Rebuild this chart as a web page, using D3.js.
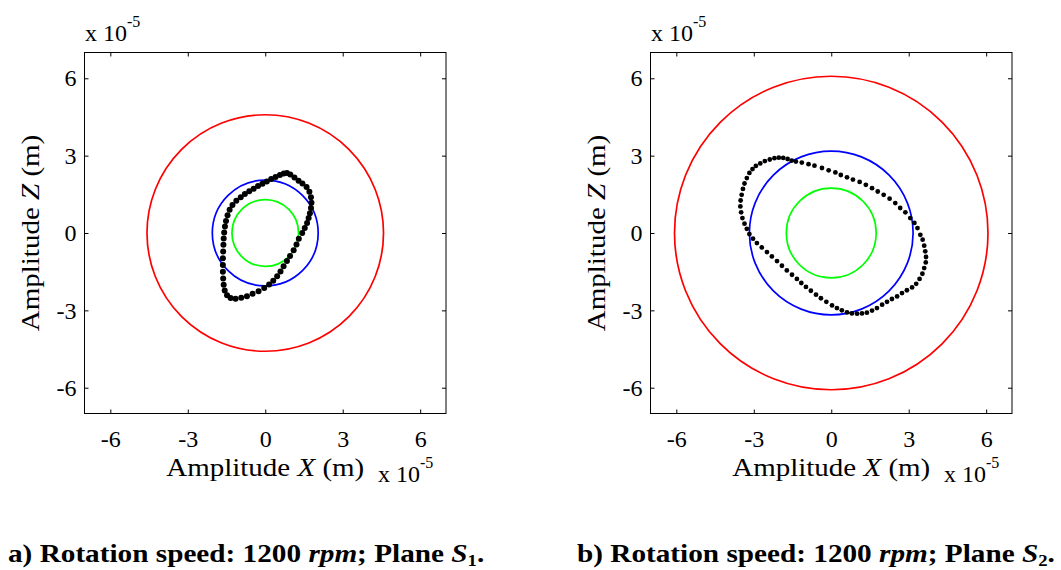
<!DOCTYPE html>
<html>
<head>
<meta charset="utf-8">
<script src="https://cdn.jsdelivr.net/npm/d3@7"></script>
<style>
  html, body { margin: 0; padding: 0; background: #ffffff; }
  svg { display: block; font-family: "Liberation Serif", "Times New Roman", serif; }
</style>
</head>
<body>
<svg id="fig" width="1061" height="570"></svg>
<script>
// ---- data (amplitudes in units of 1e-5 m) ----
const tickValues = [-6, -3, 0, 3, 6];
const axisDomain = [-7, 7];
const exponentBase = "x 10";
const exponentPower = "-5";
const axisWord = "Amplitude";
const axisUnit = "(m)";
const xSymbol = "X";
const ySymbol = "Z";

const captionLetters = ["a)", "b)"];
const rotationSpeed = 1200;
const speedUnit = "rpm";
const planeSymbol = "S";
const planeIndex = [1, 2];

// reference circles: outer (red), middle (blue), inner (green)
const radiiS1 = [4.58, 2.05, 1.29];
const radiiS2 = [6.07, 3.17, 1.74];

// measured orbit, plane S1: [X, Z]
const orbitS1 = [
  [0.84, 2.33], [0.97, 2.27], [1.13, 2.15], [1.29, 2.03], [1.44, 1.92], [1.60, 1.78],
  [1.71, 1.60], [1.77, 1.39], [1.79, 1.17], [1.77, 0.97], [1.73, 0.77], [1.68, 0.58],
  [1.62, 0.39], [1.53, 0.19], [1.43, 0.00], [1.30, -0.22], [1.21, -0.45], [1.10, -0.67],
  [0.96, -0.89], [0.84, -1.09], [0.71, -1.29], [0.59, -1.49], [0.46, -1.68], [0.31, -1.85],
  [0.15, -2.00], [-0.04, -2.13], [-0.26, -2.26], [-0.49, -2.36], [-0.71, -2.45], [-0.93, -2.51],
  [-1.15, -2.55], [-1.34, -2.52], [-1.48, -2.41], [-1.57, -2.23], [-1.61, -2.01], [-1.63, -1.76],
  [-1.64, -1.50], [-1.64, -1.24], [-1.64, -0.98], [-1.63, -0.72], [-1.62, -0.46], [-1.61, -0.21],
  [-1.59, 0.02], [-1.56, 0.25], [-1.52, 0.47], [-1.46, 0.69], [-1.38, 0.90], [-1.27, 1.09],
  [-1.12, 1.25], [-0.95, 1.39], [-0.79, 1.51], [-0.62, 1.62], [-0.45, 1.72], [-0.28, 1.82],
  [-0.11, 1.91], [0.06, 2.00], [0.23, 2.09], [0.40, 2.17], [0.57, 2.25], [0.72, 2.31]
];

// measured orbit, plane S2: [X, Z]
const orbitS2 = [
  [-3.27, 2.13], [-3.17, 2.33], [-3.05, 2.48], [-2.92, 2.60], [-2.75, 2.70], [-2.57, 2.79],
  [-2.38, 2.85], [-2.20, 2.90], [-2.03, 2.92], [-1.86, 2.91], [-1.69, 2.87], [-1.53, 2.81],
  [-1.37, 2.77], [-1.14, 2.73], [-0.88, 2.67], [-0.65, 2.61], [-0.36, 2.52], [-0.10, 2.43],
  [0.16, 2.35], [0.37, 2.25], [0.61, 2.16], [0.84, 2.07], [1.10, 1.98], [1.34, 1.87],
  [1.58, 1.74], [1.80, 1.61], [2.03, 1.48], [2.26, 1.33], [2.48, 1.16], [2.67, 0.97],
  [2.87, 0.80], [3.06, 0.58], [3.22, 0.39], [3.34, 0.19], [3.45, -0.07], [3.54, -0.26],
  [3.60, -0.49], [3.64, -0.71], [3.67, -0.93], [3.66, -1.14], [3.60, -1.36], [3.53, -1.58],
  [3.42, -1.78], [3.29, -1.97], [3.13, -2.11], [2.93, -2.22], [2.74, -2.33], [2.55, -2.46],
  [2.35, -2.56], [2.16, -2.67], [1.97, -2.78], [1.77, -2.91], [1.58, -3.01], [1.38, -3.09],
  [1.19, -3.12], [1.00, -3.13], [0.80, -3.12], [0.61, -3.08], [0.41, -3.00], [0.22, -2.91],
  [0.03, -2.81], [-0.19, -2.67], [-0.40, -2.53], [-0.59, -2.39], [-0.79, -2.24], [-0.98, -2.09],
  [-1.16, -1.94], [-1.33, -1.78], [-1.52, -1.62], [-1.72, -1.45], [-1.91, -1.27], [-2.10, -1.09],
  [-2.30, -0.91], [-2.49, -0.74], [-2.69, -0.56], [-2.88, -0.39], [-3.03, -0.22], [-3.17, -0.04],
  [-3.27, 0.16], [-3.36, 0.36], [-3.44, 0.58], [-3.49, 0.80], [-3.52, 1.03], [-3.51, 1.26],
  [-3.47, 1.48], [-3.42, 1.71], [-3.36, 1.92]
];

// ---- layout & style ----
const circleColors = ["#ff0000", "#0000ff", "#00ff00"];
const panels = [
  { left: 84.5, orbit: orbitS1, radii: radiiS1, dotR: 3.0, letter: captionLetters[0], plane: planeIndex[0], captionX: 8 },
  { left: 650.5, orbit: orbitS2, radii: radiiS2, dotR: 2.4, letter: captionLetters[1], plane: planeIndex[1], captionX: 577 }
];
const plotW = 361.5, plotTop = 52.5, plotBottom = 413.5;
const tickFont = 24, labelFont = 25, labelStretch = 1.16;
const captionFont = 25, captionStretch = 1.17, captionBaseline = 561.5;

const svg = d3.select("#fig");

panels.forEach(p => {
  const x = d3.scaleLinear().domain(axisDomain).range([p.left, p.left + plotW]);
  const y = d3.scaleLinear().domain(axisDomain).range([plotBottom, plotTop]);
  const g = svg.append("g");

  // reference circles
  g.selectAll("circle.ref")
    .data(p.radii)
    .join("circle")
    .attr("class", "ref")
    .attr("cx", x(0))
    .attr("cy", y(0))
    .attr("r", d => x(d) - x(0))
    .attr("fill", "none")
    .attr("stroke", (d, i) => circleColors[i])
    .attr("stroke-width", 1.7);

  // orbit samples
  g.selectAll("circle.pt")
    .data(p.orbit)
    .join("circle")
    .attr("class", "pt")
    .attr("cx", d => x(d[0]))
    .attr("cy", d => y(d[1]))
    .attr("r", p.dotR)
    .attr("fill", "#000");

  // axes with inward ticks on all four sides
  const fmt = d => String(d);
  const styleAxis = sel => {
    sel.select(".domain").remove();
    sel.selectAll(".tick line").attr("stroke", "#000").attr("stroke-width", 1);
    sel.selectAll(".tick text")
      .attr("fill", "#000")
      .style("font-family", "'Liberation Serif','Times New Roman',serif")
      .style("font-size", tickFont + "px");
  };
  g.append("g").attr("transform", `translate(0,${plotBottom})`)
    .call(d3.axisBottom(x).tickValues(tickValues).tickFormat(fmt).tickSizeInner(-4).tickSizeOuter(0).tickPadding(16))
    .call(styleAxis);
  g.append("g").attr("transform", `translate(0,${plotTop})`)
    .call(d3.axisTop(x).tickValues(tickValues).tickFormat("").tickSizeInner(-4).tickSizeOuter(0))
    .call(styleAxis);
  g.append("g").attr("transform", `translate(${p.left},0)`)
    .call(d3.axisLeft(y).tickValues(tickValues).tickFormat(fmt).tickSizeInner(-4).tickSizeOuter(0).tickPadding(8))
    .call(styleAxis);
  g.append("g").attr("transform", `translate(${p.left + plotW},0)`)
    .call(d3.axisRight(y).tickValues(tickValues).tickFormat("").tickSizeInner(-4).tickSizeOuter(0))
    .call(styleAxis);

  g.append("rect")
    .attr("x", p.left).attr("y", plotTop)
    .attr("width", plotW).attr("height", plotBottom - plotTop)
    .attr("fill", "none").attr("stroke", "#000").attr("stroke-width", 1);

  // axis titles
  const axisTitle = (transform, sym) => {
    const t = g.append("text")
      .attr("transform", transform)
      .attr("text-anchor", "middle")
      .style("font-size", labelFont + "px")
      .attr("fill", "#000");
    t.append("tspan").text(axisWord + " ");
    t.append("tspan").style("font-style", "italic").text(sym);
    t.append("tspan").text(" " + axisUnit);
  };
  axisTitle(`translate(${x(0)},475.5) scale(${labelStretch},1)`, xSymbol);
  axisTitle(`translate(${p.left - 46},${y(0)}) rotate(-90) scale(${labelStretch},1)`, ySymbol);

  // exponent multipliers
  const exponent = (ex, ey) => {
    const t = g.append("text").attr("x", ex).attr("y", ey)
      .style("font-size", tickFont + "px").attr("fill", "#000");
    t.append("tspan").text(exponentBase);
    t.append("tspan").attr("dy", -14).style("font-size", "16px").text(exponentPower);
  };
  exponent(p.left + 0.5, 40.5);
  exponent(p.left + plotW - 68, 482);

  // caption
  const c = svg.append("text")
    .attr("transform", `translate(${p.captionX},${captionBaseline}) scale(${captionStretch},1)`)
    .style("font-size", captionFont + "px")
    .style("font-weight", "bold")
    .attr("fill", "#000");
  c.append("tspan").text(`${p.letter} Rotation speed: ${rotationSpeed} `);
  c.append("tspan").style("font-style", "italic").text(speedUnit);
  c.append("tspan").text("; Plane ");
  c.append("tspan").style("font-style", "italic").text(planeSymbol);
  c.append("tspan").attr("dy", 4).style("font-size", "16px").text(p.plane);
  c.append("tspan").attr("dy", -4).text(".");
});
</script>
</body>
</html>
